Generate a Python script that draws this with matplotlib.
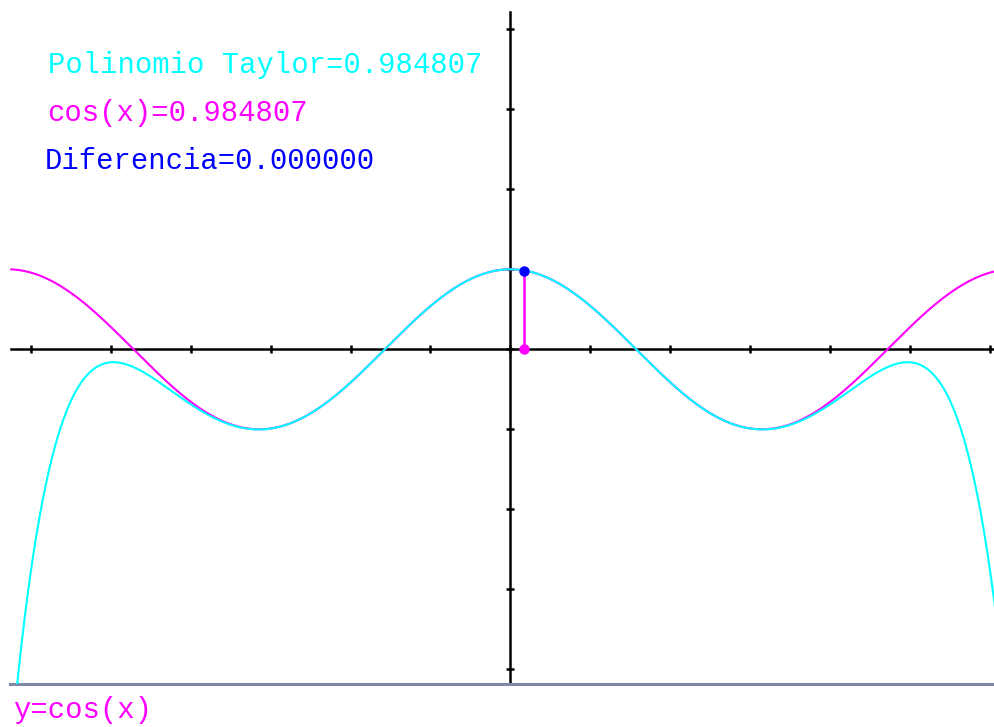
import numpy as np
import matplotlib
matplotlib.use('Agg')
from matplotlib import pyplot as plt
from matplotlib.patches import Rectangle
from math import factorial

# chart parameters
x_range = [-6.24, 2 * np.pi]        # domain drawn for both curves
taylor_degree = 10                  # degree of the cos(x) Taylor polynomial
x_eval = np.radians(10)             # evaluation point (10 degrees)
x_ticks = list(range(-6, 7))
y_ticks = list(range(-4, 5))
labels = ['Polinomio Taylor', 'cos(x)', 'Diferencia']
footer = 'y=cos(x)'

CYAN = '#00ffff'
MAGENTA = '#ff00ff'
BLUE = '#0000ff'
GREY = '#7f89a3'

W, H = 995, 727
PX = 80.0           # pixels per unit
X0, Y0 = 510.5, 349.3


def taylor_cos(x, n):
    x = np.asarray(x, dtype=float)
    total = np.zeros_like(x)
    for k in range(n // 2 + 1):
        total = total + (-1) ** k * x ** (2 * k) / factorial(2 * k)
    return total


def trunc6(v):
    # the original program truncates instead of rounding
    return '%.6f' % (np.floor(v * 1e6) / 1e6)


fig = plt.figure(figsize=(W / 100, H / 100), dpi=100)
fig.patch.set_facecolor('white')
ax = fig.add_axes([0, 0, 1, 1])
ax.set_xlim(-X0 / PX, (W - X0) / PX)
ax.set_ylim((Y0 - H) / PX, Y0 / PX)
ax.axis('off')

y_bottom = (Y0 - 684) / PX
y_top = (Y0 - 12) / PX
x_left = (11 - X0) / PX
x_right = (W - X0) / PX

# axes
ax.plot([x_left, x_right], [0, 0], color='black', lw=1.8, zorder=2)
ax.plot([0, 0], [y_bottom, y_top], color='black', lw=1.8, zorder=2)
ax.plot(x_ticks, [0] * len(x_ticks), ls='none', marker='|', ms=6, mew=1.8, color='black', zorder=2)
ax.plot([0] * len(y_ticks), y_ticks, ls='none', marker='_', ms=6, mew=1.8, color='black', zorder=2)
ax.plot([(10 - X0) / PX, x_right], [y_bottom, y_bottom], color=GREY, lw=2.2, zorder=2)

# curves
xs = np.linspace(x_range[0], x_range[1], 2000)
clip = Rectangle((x_range[0], y_bottom), x_range[1] - x_range[0], 20, transform=ax.transData)
ax.plot(xs, np.cos(xs), color=MAGENTA, lw=1.5, zorder=3)
line, = ax.plot(xs, taylor_cos(xs, taylor_degree), color=CYAN, lw=1.5, zorder=4)
line.set_clip_path(clip)

# evaluation point
p_val = float(taylor_cos(x_eval, taylor_degree))
c_val = float(np.cos(x_eval))
ax.plot([x_eval, x_eval], [0, c_val], color=MAGENTA, lw=1.8, zorder=5)
ax.plot([x_eval], [c_val], 'o', color=BLUE, ms=6.5, zorder=6)
ax.plot([x_eval], [0], 'o', color=MAGENTA, ms=6.5, zorder=6)

font = dict(family='Liberation Mono', fontsize=20.8, va='baseline', ha='left', transform=ax.transAxes)
ax.text(48 / W, 1 - 73 / H, f'{labels[0]}={trunc6(p_val)}', color=CYAN, **font)
ax.text(47 / W, 1 - 121 / H, f'{labels[1]}={trunc6(c_val)}', color=MAGENTA, **font)
ax.text(45 / W, 1 - 169 / H, f'{labels[2]}={trunc6(abs(p_val - c_val))}', color=BLUE, **font)
ax.text(13 / W, 1 - 718 / H, footer, color=MAGENTA, **font)

plt.savefig('out.png', dpi=100, facecolor='white')
